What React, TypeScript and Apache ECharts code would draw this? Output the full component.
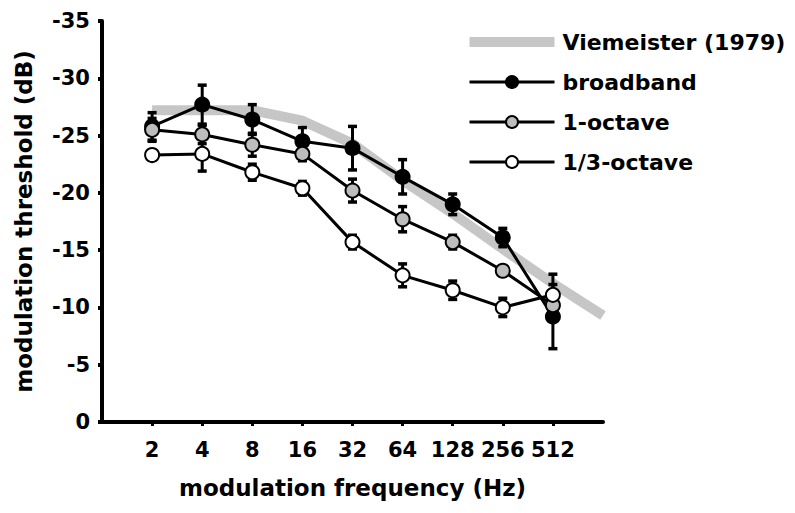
import React, { useEffect, useRef } from 'react';
import * as echarts from 'echarts';

const freqs = [2, 4, 8, 16, 32, 64, 128, 256, 512];
const broadband = [-25.8, -27.7, -26.4, -24.5, -23.9, -21.4, -19.0, -16.1, -9.2];
const broadbandErr = [1.2, 1.7, 1.3, 1.2, 1.9, 1.5, 0.9, 0.8, 2.8];
const oneOctave = [-25.5, -25.1, -24.2, -23.4, -20.2, -17.7, -15.7, -13.2, -10.2];
const oneOctaveErr = [1.0, 0.8, 1.0, 0.6, 1.0, 1.1, 0.6, 0.4, 0.8];
const thirdOctave = [-23.3, -23.4, -21.8, -20.4, -15.7, -12.8, -11.5, -10.0, -11.1];
const thirdOctaveErr = [0.4, 1.5, 0.7, 0.6, 0.6, 1.0, 0.8, 0.8, 1.8];
const viemeisterFreqs = [2, 4, 8, 16, 32, 64, 128, 256, 512, 1024];
const viemeister = [-27.2, -27.2, -27.2, -26.3, -24.3, -21.1, -18.2, -15.1, -12.1, -9.3];
const seriesNames = ['Viemeister (1979)', 'broadband', '1-octave', '1/3-octave'];

const FONT = 'DejaVu Sans';

function errorSeries(name: string, vals: number[], errs: number[]) {
  return {
    type: 'custom',
    name,
    z: 2,
    silent: true,
    encode: { x: 0, y: 1 },
    data: freqs.map((f, i) => [f, vals[i], errs[i]]),
    renderItem: (params: any, api: any) => {
      const x = api.value(0);
      const y = api.value(1);
      const e = api.value(2);
      if (!e) return null;
      const p1 = api.coord([x, y - e]);
      const p2 = api.coord([x, y + e]);
      const hw = 4.5;
      const st = { stroke: '#000', lineWidth: 3 };
      return {
        type: 'group',
        children: [
          { type: 'line', shape: { x1: p1[0], y1: p1[1], x2: p2[0], y2: p2[1] }, style: st },
          { type: 'line', shape: { x1: p1[0] - hw, y1: p1[1], x2: p1[0] + hw, y2: p1[1] }, style: { stroke: '#000', lineWidth: 3.5 } },
          { type: 'line', shape: { x1: p2[0] - hw, y1: p2[1], x2: p2[0] + hw, y2: p2[1] }, style: { stroke: '#000', lineWidth: 3.5 } },
        ],
      };
    },
  };
}

function markerSeries(name: string, vals: number[], fill: string) {
  return {
    type: 'line',
    name,
    z: 3,
    data: freqs.map((f, i) => [f, vals[i]]),
    symbol: 'circle',
    symbolSize: 14,
    showAllSymbol: true,
    color: fill,
    itemStyle: { color: fill, borderColor: '#000', borderWidth: 2 },
    lineStyle: { color: '#000', width: 3 },
  };
}

export default function App() {
  const ref = useRef<HTMLDivElement>(null);
  useEffect(() => {
    if (!ref.current) return;
    const chart = echarts.init(ref.current, undefined, { renderer: 'svg' });
    const option: any = {
      animation: false,
      backgroundColor: '#fff',
      grid: { left: 102, top: 21, width: 501, height: 401 },
      legend: {
        orient: 'vertical',
        left: 463,
        top: 26,
        itemWidth: 85,
        itemHeight: 15,
        itemGap: 18,
        selectedMode: false,
        lineStyle: { width: 3 },
        textStyle: { fontFamily: FONT, fontWeight: 'bold', fontSize: 22, color: '#000', lineHeight: 22, padding: [0, 0, 0, 3] },
        data: [
          { name: seriesNames[0], icon: 'path://M0 0H85V10H0Z' },
          { name: seriesNames[1] },
          { name: seriesNames[2] },
          { name: seriesNames[3] },
        ],
      },
      xAxis: {
        type: 'log',
        logBase: 2,
        min: 1,
        max: 1024,
        name: 'modulation frequency (Hz)',
        nameLocation: 'middle',
        nameGap: 54,
        nameTextStyle: { fontFamily: FONT, fontWeight: 'bold', fontSize: 23, color: '#000' },
        axisLine: { onZero: false, lineStyle: { color: '#000', width: 4 } },
        axisTick: { show: true, length: 4, customValues: freqs, lineStyle: { color: '#000', width: 3 } },
        minorTick: { show: false },
        axisLabel: {
          customValues: freqs,
          margin: 17,
          fontFamily: FONT,
          fontWeight: 'bold',
          fontSize: 21,
          color: '#000',
          formatter: (v: number) => {
            const r = Math.round(v);
            return r <= 1 || r >= 1024 ? '' : String(r);
          },
        },
        splitLine: { show: false },
      },
      yAxis: {
        type: 'value',
        min: -35,
        max: 0,
        interval: 5,
        inverse: true,
        name: 'modulation threshold (dB)',
        nameLocation: 'middle',
        nameGap: 67,
        nameTextStyle: { fontFamily: FONT, fontWeight: 'bold', fontSize: 23, color: '#000' },
        axisLine: { show: true, lineStyle: { color: '#000', width: 4 } },
        axisTick: { show: true, length: 4, lineStyle: { color: '#000', width: 4 } },
        axisLabel: { margin: 12, fontFamily: FONT, fontWeight: 'bold', fontSize: 21, color: '#000' },
        splitLine: { show: false },
      },
      series: [
        {
          type: 'line',
          name: seriesNames[0],
          z: 1,
          data: viemeisterFreqs.map((f, i) => [f, viemeister[i]]),
          symbol: 'none',
          color: '#c6c6c6',
          itemStyle: { color: '#c6c6c6' },
          lineStyle: { color: '#c6c6c6', width: 10, cap: 'butt', join: 'round' },
        },
        errorSeries('broadband err', broadband, broadbandErr),
        errorSeries('1-octave err', oneOctave, oneOctaveErr),
        errorSeries('1/3-octave err', thirdOctave, thirdOctaveErr),
        markerSeries(seriesNames[1], broadband, '#000'),
        markerSeries(seriesNames[2], oneOctave, '#bdbdbd'),
        markerSeries(seriesNames[3], thirdOctave, '#fff'),
      ],
    };
    chart.setOption(option);
    return () => chart.dispose();
  }, []);
  return <div ref={ref} style={{ position: 'fixed', left: 0, top: 0, width: 795, height: 513 }} />;
}
